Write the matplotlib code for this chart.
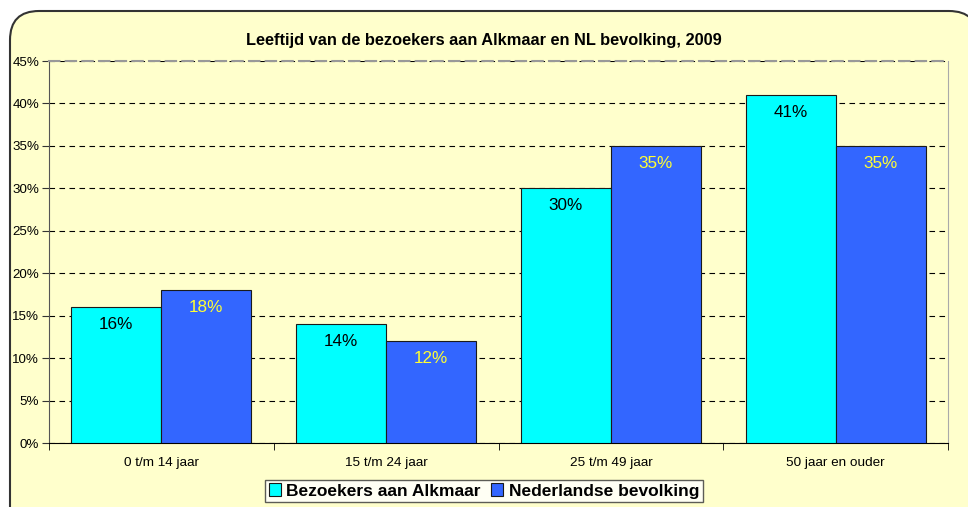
import matplotlib
matplotlib.use("Agg")
import matplotlib.pyplot as plt
from matplotlib.patches import FancyBboxPatch
import numpy as np

plt.rcParams['font.family'] = ['Liberation Sans', 'DejaVu Sans']

categories = ['0 t/m 14 jaar', '15 t/m 24 jaar', '25 t/m 49 jaar', '50 jaar en ouder']
bezoekers = [16, 14, 30, 41]
nederland = [18, 12, 35, 35]
series_names = ['Bezoekers aan Alkmaar', 'Nederlandse bevolking']
yticks = [0, 5, 10, 15, 20, 25, 30, 35, 40, 45]

bg = '#FFFFCC'
fig = plt.figure(figsize=(9.68, 5.07), dpi=100)
fig.patch.set_facecolor('white')

# rounded chart area background (runs off right and bottom edge)
box = FancyBboxPatch((10 / 968, -0.2), 1.0, 1 - 11 / 507 + 0.2,
                     boxstyle='round,pad=0,rounding_size=0.03',
                     transform=fig.transFigure, facecolor=bg,
                     edgecolor='#333333', linewidth=1.5, mutation_aspect=968 / 507,
                     zorder=-5)
fig.patches.append(box)

ax = fig.add_axes([49 / 968, 1 - 443 / 507, (948 - 49) / 968, (443 - 61) / 507])
ax.set_facecolor(bg)

x = np.arange(len(categories))
w = 0.4
b1 = ax.bar(x - w / 2, bezoekers, w, color='#00FFFF', edgecolor='#1a1a1a', linewidth=0.8, label=series_names[0], zorder=3)
b2 = ax.bar(x + w / 2, nederland, w, color='#3366FF', edgecolor='#1a1a1a', linewidth=0.8, label=series_names[1], zorder=3)

for bars, vals, col in [(b1, bezoekers, 'black'), (b2, nederland, '#FFFF33')]:
    for r, v in zip(bars, vals):
        ax.annotate('%d%%' % v, (r.get_x() + r.get_width() / 2, v), xytext=(0, -12.5),
                    textcoords='offset points', ha='center', va='center',
                    fontsize=12.3, color=col, zorder=4)

ax.set_xlim(-0.5, len(categories) - 0.5)
ax.set_ylim(0, 45)
ax.set_yticks(yticks)
ax.set_yticklabels(['%d%%' % t for t in yticks], fontsize=9.6)
ax.yaxis.grid(True, linestyle=(0, (5, 4)), color='black', linewidth=0.8, zorder=0)

ax.set_xticks(x)
ax.set_xticklabels(categories, fontsize=9.7)
ax.tick_params(axis='x', length=0, pad=10)
ax.set_xticks(np.arange(len(categories) + 1) - 0.5, minor=True)
ax.tick_params(axis='x', which='minor', length=5, color='black')
ax.tick_params(axis='y', length=5, color='#333333', pad=2)

ax.spines['left'].set_color('#555555')
ax.spines['bottom'].set_color('black')
ax.spines['right'].set_color('#aaaaaa')
ax.spines['top'].set_color('#999999')
ax.spines['top'].set_linestyle((0, (5, 3)))
ax.spines['top'].set_linewidth(1.5)

fig.text(0.5, 1 - 40 / 507, 'Leeftijd van de bezoekers aan Alkmaar en NL bevolking, 2009',
         ha='center', va='center', fontsize=11.8, fontweight='bold')

leg = fig.legend(handles=[b1, b2], loc='center', bbox_to_anchor=(0.5, 1 - 491 / 507),
                 ncol=2, frameon=True, fancybox=False, edgecolor='#333333',
                 prop={'weight': 'bold', 'size': 12.5}, handlelength=0.7, handleheight=0.7,
                 handletextpad=0.3, columnspacing=0.6, borderpad=0.2)
leg.get_frame().set_linewidth(1.0)
leg.get_frame().set_facecolor('white')

fig.savefig('out.png', dpi=100, facecolor=fig.get_facecolor())
